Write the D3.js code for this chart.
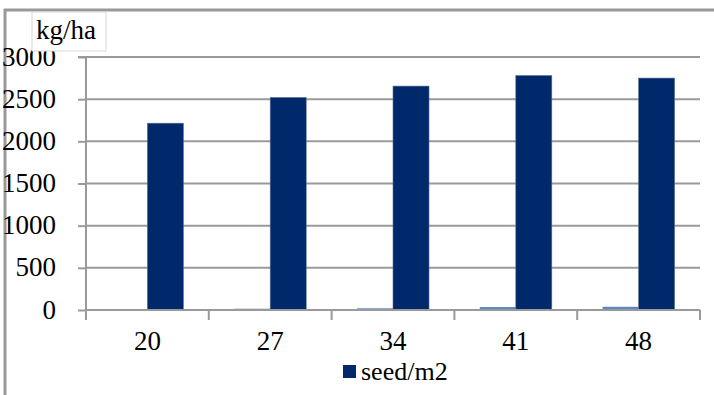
<!DOCTYPE html>
<html><head><meta charset="utf-8">
<script src="https://cdn.jsdelivr.net/npm/d3@7"></script>
</head><body style="margin:0">
<svg id="c" width="714" height="395"></svg>
<script>
const categories = ["20","27","34","41","48"];
const seriesNames = ["series1","seed/m2"];
const series1 = [0, 15, 20, 35, 38];
const seedM2 = [2215, 2520, 2655, 2780, 2750];
const yTicks = [0,500,1000,1500,2000,2500,3000];
const yLabel = "kg/ha";

const FONT = '"Liberation Serif"';
const FS = 27;
const svg = d3.select("#c").style("display","block");
const m = {left:86, right:700, top:57, bottom:310};

// frame
svg.append("line").attr("x1",5).attr("x2",5).attr("y1",9).attr("y2",395).attr("stroke","#999").attr("stroke-width",3);
svg.append("line").attr("x1",4).attr("x2",714).attr("y1",10).attr("y2",10).attr("stroke","#999").attr("stroke-width",3);

const x0 = d3.scaleBand().domain(categories).range([m.left,m.right]);
const x1 = d3.scaleBand().domain(seriesNames).range([0,x0.bandwidth()]).paddingInner(0).paddingOuter(0.705);
const y = d3.scaleLinear().domain([0,3000]).range([m.bottom,m.top]);

// gridlines
svg.append("g").selectAll("line").data(yTicks.filter(t=>t>0)).join("line")
  .attr("x1",m.left).attr("x2",m.right).attr("y1",d=>y(d)).attr("y2",d=>y(d))
  .attr("stroke","#9a9a9a").attr("stroke-width",2);

// y axis
const ya = svg.append("g").attr("transform",`translate(${m.left},0)`)
  .call(d3.axisLeft(y).tickValues(yTicks).tickSize(8).tickPadding(22).tickFormat(d3.format("d")));
ya.attr("font-family",null).attr("font-size",null);
ya.select(".domain").attr("stroke","#9a9a9a").attr("stroke-width",2).attr("d",`M-8,${m.top}H0V${m.bottom}`);
ya.selectAll(".tick line").attr("stroke","#9a9a9a").attr("stroke-width",2);
ya.selectAll("text").style("font-family",FONT).attr("font-size",FS).attr("fill","#000").attr("dy","0.3em");

// x axis
const xa = svg.append("g").attr("transform",`translate(0,${m.bottom})`)
  .call(d3.axisBottom(x0).tickSize(0).tickPadding(24));
xa.attr("font-family",null).attr("font-size",null);
xa.select(".domain").attr("stroke","#9a9a9a").attr("stroke-width",2).attr("d",`M${m.left},0H${m.right}`);
xa.selectAll("text").style("font-family",FONT).attr("font-size",FS).attr("fill","#000").attr("dy","0.6em");
const bounds = categories.map(c=>x0(c)).concat([m.right]);
svg.append("g").selectAll("line").data(bounds).join("line")
  .attr("x1",d=>d).attr("x2",d=>d).attr("y1",m.bottom).attr("y2",m.bottom+10)
  .attr("stroke","#9a9a9a").attr("stroke-width",2);

// bars
const colors = {"series1":"#5b87c3","seed/m2":"#00296b"};
const data = categories.map((c,i)=>({c, vals:[{s:"series1",v:series1[i]},{s:"seed/m2",v:seedM2[i]}]}));
const g = svg.append("g");
data.forEach(d=>{
  g.selectAll(null).data(d.vals).join("rect")
    .attr("x",v=>x0(d.c)+x1(v.s)).attr("width",x1.bandwidth())
    .attr("y",v=>y(v.v)).attr("height",v=>Math.max(0,y(0)-y(v.v)))
    .attr("fill",v=>colors[v.s])
    .attr("stroke",v=>v.s==="seed/m2"?"#5a6f96":"none").attr("stroke-width",0.6);
});
svg.append("line").attr("x1",m.left).attr("x2",m.right).attr("y1",m.bottom).attr("y2",m.bottom).attr("stroke","#9a9a9a").attr("stroke-width",2);

// y label box
svg.append("rect").attr("x",32).attr("y",12).attr("width",74).attr("height",39).attr("fill","#fff").attr("stroke","#d8d8d8").attr("stroke-width",1);
svg.append("text").attr("x",36).attr("y",39).style("font-family",FONT).attr("font-size",FS).text(yLabel);

// legend
svg.append("rect").attr("x",343).attr("y",365).attr("width",13).attr("height",13).attr("fill",colors["seed/m2"]);
svg.append("text").attr("x",361).attr("y",380).style("font-family",FONT).attr("font-size",26).text("seed/m2");
</script>
</body></html>
